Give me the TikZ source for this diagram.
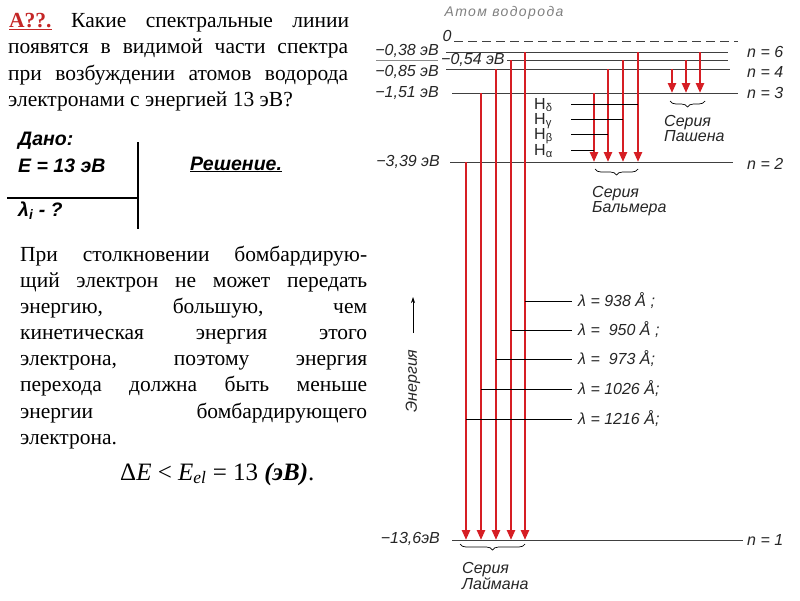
\documentclass[tikz,border=0pt]{standalone}
\usepackage{fontspec}
\setmainfont{Liberation Serif}
\newfontfamily\diagfont{Liberation Sans}
\usetikzlibrary{arrows.meta,decorations.pathreplacing}

\definecolor{arrowred}{RGB}{214,30,36}
\definecolor{titlered}{RGB}{196,38,38}

\begin{document}
\begin{tikzpicture}[x=1pt, y=-1pt,
    txt/.style={anchor=base west, inner sep=0pt, font=\fontsize{21.5}{24}\selectfont},
    given/.style={anchor=base west, inner sep=0pt,
                  font=\diagfont\bfseries\itshape\fontsize{19.5}{22}\selectfont},
    lbl/.style={inner sep=0pt, text=black!85,
                font=\diagfont\itshape\fontsize{16}{15}\selectfont},
    level/.style={line width=0.9pt, black!75},
    trans/.style={arrowred, line width=2.4pt, -{Triangle[length=10pt,width=8pt]}},
    lead/.style={line width=0.7pt},
    series/.style={decorate, decoration={brace, amplitude=6pt, mirror}, line width=0.7pt},
]
\useasboundingbox (0,0) rectangle (800,600);

    % question
    \node[txt] (q1) at (9,27) {\makebox[340pt][s]{\textcolor{titlered}{\textbf{\underline{А??.}}} Какие спектральные линии}};
    \node[txt] (q2) at (8,53.5) {\makebox[340pt][s]{появятся в видимой части спектра}};
    \node[txt] (q3) at (8,80) {\makebox[340pt][s]{при возбуждении атомов водорода}};
    \node[txt] (q4) at (8,106) {электронами с энергией 13 эВ?};

    % given / solution
    \node[given] (dano) at (18,145) {Дано:};
    \node[given] (energy) at (18,172) {E = 13 эВ};
    \node[given] (unknown) at (18,216) {λ\textsubscript{i} - ?};
    \node[given] (solution) at (190,170) {\underline{Решение.}};
    \coordinate (hl) at (7,198);
    \coordinate (hr) at (138,198);
    \coordinate (vt) at (138,142);
    \coordinate (vb) at (138,229);
    \draw[line width=1.3pt] (hl) -- (hr);
    \draw[line width=1.3pt] (vt) -- (vb);

    % explanation
    \node[txt] (p1) at (20,261) {\makebox[347pt][s]{При столкновении бомбардирую-}};
    \node[txt] (p2) at (20,287) {\makebox[347pt][s]{щий электрон не может передать}};
    \node[txt] (p3) at (20,313) {\makebox[347pt][s]{энергию, большую, чем}};
    \node[txt] (p4) at (20,339.5) {\makebox[347pt][s]{кинетическая энергия этого}};
    \node[txt] (p5) at (20,365.5) {\makebox[347pt][s]{электрона, поэтому энергия}};
    \node[txt] (p6) at (20,391.5) {\makebox[347pt][s]{перехода должна быть меньше}};
    \node[txt] (p7) at (20,418) {\makebox[347pt][s]{энергии бомбардирующего}};
    \node[txt] (p8) at (20,444) {электрона.};
    \node[txt, font=\fontsize{25}{30}\selectfont] (deltaE) at (120,480)
        {Δ\textit{E} < \textit{E}\textsubscript{\textit{el}} = 13 \textbf{\textit{(эВ)}}.};

    % energy levels
    \node[lbl, text=black!50, font=\diagfont\itshape\fontsize{14}{15}\selectfont] (title) at (504,13)
        {\addfontfeatures{LetterSpace=10}Атом водорода};
    \node[lbl] (zero) at (447,36) {0};
    \coordinate (z0) at (454,41);
    \coordinate (z1) at (738,41);
    \draw[level, dash pattern=on 9pt off 5pt] (z0) -- (z1);
    \foreach \nm/\xa/\xb/\ys in {n6/446/728/52, n5/507/728/60, n4/446/730/69,
                                 n3/452/738/93, n2/450/733/162, n1/452/743/540} {
        \coordinate (\nm a) at (\xa,\ys);
        \coordinate (\nm b) at (\xb,\ys);
        \draw[level] (\nm a) -- (\nm b);
    }
    \coordinate (u38a) at (376,60);
    \coordinate (u38b) at (438,60);
    \draw[line width=0.6pt, black!45] (u38a) -- (u38b);

    \node[lbl, anchor=east] (e6) at (439,51) {−0,38 эВ};
    \node[lbl, anchor=west] (e5) at (441,59.5) {−0,54 эВ};
    \node[lbl, anchor=east] (e4) at (439,72) {−0,85 эВ};
    \node[lbl, anchor=east] (e3) at (439,93) {−1,51 эВ};
    \node[lbl, anchor=east] (e2) at (440,162) {−3,39 эВ};
    \node[lbl, anchor=east] (e1) at (440,539) {−13,6эВ};
    \foreach \nm/\ys in {6/52, 4/72, 3/93, 2/164, 1/540}
        \node[lbl, anchor=west] (lv\nm) at (747,\ys) {\textit{n} = \nm};

    % transitions
    \foreach \xs/\ys [count=\i] in {466/162, 481/93, 496/69, 511/60, 525/52} {
        \coordinate (ly\i s) at (\xs,\ys);
        \coordinate (ly\i e) at (\xs,540);
        \draw[trans] (ly\i s) -- (ly\i e);
    }
    \foreach \xs/\ys [count=\i] in {594/93, 608/69, 623/60, 638/52} {
        \coordinate (ba\i s) at (\xs,\ys);
        \coordinate (ba\i e) at (\xs,162);
        \draw[trans] (ba\i s) -- (ba\i e);
    }
    \foreach \xs/\ys [count=\i] in {672/69, 686/60, 700/52} {
        \coordinate (pa\i s) at (\xs,\ys);
        \coordinate (pa\i e) at (\xs,93);
        \draw[trans] (pa\i s) -- (pa\i e);
    }

    % Balmer line names
    \foreach \gr/\ys/\xs in {δ/104/638, γ/119/623, β/134/608, α/150/594} {
        \node[lbl, anchor=west, text height=11pt, text depth=1pt,
              font=\diagfont\fontsize{16}{15}\selectfont] (h\gr) at (534,\ys) {H\textsubscript{\gr}};
        \coordinate (h\gr s) at (571,\ys);
        \coordinate (h\gr e) at (\xs,\ys);
        \draw[lead] (h\gr s) -- (h\gr e);
    }

    % Lyman wavelengths
    \foreach \ys/\xs/\wl in {301/525/{938 Å ;}, 330/511/{ 950 Å ;}, 359/496/{ 973 Å;},
                             389/481/{1026 Å;}, 419/466/{1216 Å;}} {
        \node[lbl, anchor=west] (wl\ys) at (578,\ys) {λ = \wl};
        \coordinate (wl\ys s) at (\xs,\ys);
        \draw[lead, shorten >=6pt] (wl\ys s) -- (wl\ys.west);
    }

    % series
    \coordinate (pb0) at (670,101);
    \coordinate (pb1) at (705,101);
    \draw[series] (pb0) -- (pb1);
    \node[lbl, anchor=north west, align=left] (paschen) at (664,115) {Серия\\Пашена};
    \coordinate (bb0) at (595,169);
    \coordinate (bb1) at (638,169);
    \draw[series] (bb0) -- (bb1);
    \node[lbl, anchor=north west, align=left] (balmer) at (592,186) {Серия\\Бальмера};
    \coordinate (lb0) at (460,544);
    \coordinate (lb1) at (525,544);
    \draw[series] (lb0) -- (lb1);
    \node[lbl, anchor=north west, align=left] (lyman) at (462,562) {Серия\\Лаймана};

    % energy axis
    \node[lbl, rotate=90] (axis) at (413,381) {Энергия};
    \coordinate (ea) at (413,333);
    \coordinate (eb) at (413,297);
    \draw[line width=0.7pt, -{Stealth[length=6pt,width=4pt]}] (ea) -- (eb);

\end{tikzpicture}
\end{document}
